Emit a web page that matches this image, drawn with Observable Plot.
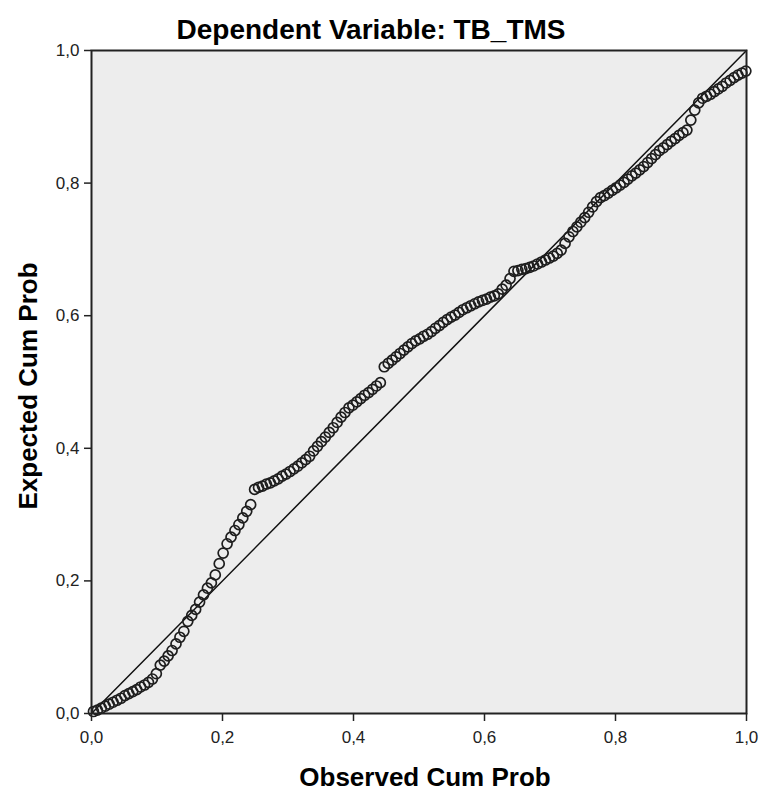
<!DOCTYPE html>
<html>
<head>
<meta charset="utf-8">
<script src="https://cdn.jsdelivr.net/npm/d3@7"></script>
<script src="https://cdn.jsdelivr.net/npm/@observablehq/plot@0.6"></script>
<style>
  html, body { margin: 0; padding: 0; background: #ffffff; }
</style>
</head>
<body>
<div id="chart"></div>
<script>
const title = "Dependent Variable: TB_TMS";
const xLabel = "Observed Cum Prob";
const yLabel = "Expected Cum Prob";
const tickValues = [0, 0.2, 0.4, 0.6, 0.8, 1.0];
const tickLabels = ["0,0", "0,2", "0,4", "0,6", "0,8", "1,0"];
const refLine = [0, 1];

const observed = [
  0.003, 0.009, 0.015, 0.021, 0.027, 0.033, 0.039, 0.045, 0.051, 0.057,
  0.063, 0.069, 0.075, 0.081, 0.087, 0.093, 0.099, 0.105, 0.111, 0.117,
  0.123, 0.129, 0.135, 0.141, 0.147, 0.153, 0.159, 0.165, 0.171, 0.177,
  0.183, 0.189, 0.195, 0.201, 0.207, 0.213, 0.219, 0.225, 0.231, 0.237,
  0.243, 0.249, 0.255, 0.261, 0.267, 0.273, 0.279, 0.285, 0.291, 0.297,
  0.303, 0.309, 0.315, 0.321, 0.327, 0.333, 0.339, 0.345, 0.351, 0.357,
  0.363, 0.369, 0.375, 0.381, 0.387, 0.393, 0.399, 0.405, 0.411, 0.417,
  0.423, 0.429, 0.435, 0.441, 0.447, 0.453, 0.459, 0.465, 0.471, 0.477,
  0.483, 0.489, 0.495, 0.501, 0.507, 0.513, 0.519, 0.525, 0.531, 0.537,
  0.543, 0.549, 0.555, 0.561, 0.567, 0.573, 0.579, 0.585, 0.591, 0.597,
  0.603, 0.609, 0.615, 0.621, 0.627, 0.633, 0.639, 0.645, 0.651, 0.657,
  0.663, 0.669, 0.675, 0.681, 0.687, 0.693, 0.699, 0.705, 0.711, 0.717,
  0.723, 0.729, 0.735, 0.741, 0.747, 0.753, 0.759, 0.765, 0.771, 0.777,
  0.783, 0.789, 0.795, 0.801, 0.807, 0.813, 0.819, 0.825, 0.831, 0.837,
  0.843, 0.849, 0.855, 0.861, 0.867, 0.873, 0.879, 0.885, 0.891, 0.897,
  0.903, 0.909, 0.915, 0.921, 0.927, 0.933, 0.939, 0.945, 0.951, 0.957,
  0.963, 0.969, 0.975, 0.981, 0.987, 0.993, 0.999
];

const expected = [
  0.003, 0.005, 0.008, 0.011, 0.014, 0.017, 0.020, 0.023, 0.027, 0.030,
  0.033, 0.036, 0.040, 0.043, 0.047, 0.052, 0.060, 0.073, 0.079, 0.087,
  0.095, 0.105, 0.115, 0.124, 0.139, 0.148, 0.157, 0.168, 0.179, 0.189,
  0.197, 0.209, 0.226, 0.242, 0.256, 0.266, 0.276, 0.285, 0.295, 0.305,
  0.315, 0.338, 0.341, 0.343, 0.346, 0.348, 0.351, 0.354, 0.358, 0.361,
  0.365, 0.369, 0.373, 0.378, 0.383, 0.388, 0.396, 0.403, 0.410, 0.417,
  0.424, 0.431, 0.439, 0.447, 0.454, 0.461, 0.465, 0.470, 0.475, 0.480,
  0.484, 0.489, 0.494, 0.499, 0.523, 0.528, 0.533, 0.538, 0.543, 0.548,
  0.553, 0.558, 0.562, 0.565, 0.569, 0.572, 0.576, 0.581, 0.585, 0.590,
  0.594, 0.598, 0.601, 0.605, 0.609, 0.612, 0.615, 0.618, 0.621, 0.623,
  0.625, 0.628, 0.630, 0.633, 0.640, 0.646, 0.656, 0.667, 0.668, 0.670,
  0.671, 0.673, 0.675, 0.678, 0.681, 0.684, 0.687, 0.690, 0.694, 0.699,
  0.709, 0.719, 0.727, 0.734, 0.741, 0.748, 0.756, 0.764, 0.772, 0.778,
  0.781, 0.785, 0.789, 0.793, 0.797, 0.801, 0.806, 0.811, 0.815, 0.820,
  0.825, 0.831, 0.837, 0.843, 0.849, 0.853, 0.858, 0.863, 0.867, 0.872,
  0.876, 0.880, 0.895, 0.910, 0.921, 0.928, 0.931, 0.934, 0.938, 0.942,
  0.946, 0.951, 0.955, 0.959, 0.963, 0.966, 0.969
];

const points = observed.map((x, i) => ({x, y: expected[i]}));
const fmt = d => tickLabels[tickValues.indexOf(d)];
const font = "'Liberation Sans', Arial, Helvetica, sans-serif";

const chart = Plot.plot({
  width: 759,
  height: 792,
  marginLeft: 91,
  marginRight: 13,
  marginTop: 50,
  marginBottom: 79,
  style: {fontFamily: font, background: "#ffffff", color: "#000"},
  x: {domain: [0, 1]},
  y: {domain: [0, 1]},
  marks: [
    Plot.frame({fill: "#ededed", stroke: "none"}),
    Plot.line(refLine.map(v => ({x: v, y: v})), {x: "x", y: "y", stroke: "#111", strokeWidth: 1.5}),
    Plot.dot(points, {x: "x", y: "y", r: 5, stroke: "#1e1e1e", strokeWidth: 1.7, fill: "none"}),
    Plot.frame({stroke: "#222", strokeWidth: 2}),
    Plot.axisX({ticks: tickValues, tickFormat: fmt, tickSize: 8, tickPadding: 9, fontSize: 17, label: null, stroke: "#222", strokeWidth: 1.5, fill: "#222"}),
    Plot.axisY({ticks: tickValues, tickFormat: fmt, tickSize: 7, tickPadding: 5, fontSize: 17, label: null, stroke: "#222", strokeWidth: 1.5, fill: "#222"}),
    Plot.text([title], {frameAnchor: "top", text: d => d, dx: -48, dy: -12, lineAnchor: "bottom", fontSize: 28, fontWeight: "bold", fill: "#000"}),
    Plot.text([xLabel], {frameAnchor: "bottom", text: d => d, dx: 6, dy: 72, lineAnchor: "bottom", fontSize: 26, fontWeight: "bold", fill: "#000"}),
    Plot.text([yLabel], {frameAnchor: "left", text: d => d, dx: -63, dy: 4, rotate: -90, textAnchor: "middle", lineAnchor: "middle", fontSize: 26, fontWeight: "bold", fill: "#000"})
  ]
});
document.getElementById("chart").appendChild(chart);
</script>
</body>
</html>
